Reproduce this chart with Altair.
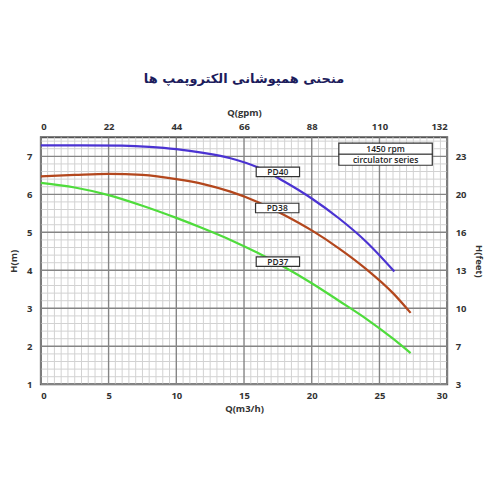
import json
import altair as alt
import pandas as pd

title_text = "منحنی همپوشانی الکتروپمپ ها"

# Pump curves: Q (m3/h) and H (m)
q_pd40 = [0, 3, 6, 8, 10, 12, 14, 16, 18, 20, 22, 24, 26.1]
h_pd40 = [7.29, 7.29, 7.28, 7.25, 7.19, 7.09, 6.95, 6.71, 6.33, 5.89, 5.37, 4.76, 3.97]

q_pd38 = [0, 2.5, 5, 7.5, 10, 12, 14, 16, 18, 20, 22, 24, 26, 27.3]
h_pd38 = [6.47, 6.51, 6.54, 6.51, 6.40, 6.27, 6.07, 5.80, 5.45, 5.05, 4.58, 4.04, 3.40, 2.88]

q_pd37 = [0, 2.5, 5, 7.5, 10, 12, 14, 16, 18, 20, 22, 24, 26, 27.3]
h_pd37 = [6.30, 6.18, 5.98, 5.70, 5.38, 5.10, 4.80, 4.46, 4.08, 3.66, 3.20, 2.73, 2.20, 1.82]

pump_names = ["PD40", "PD38", "PD37"]
pump_colors = ["#4b33d2", "#b3471d", "#4fdc3c"]

# Axis ticks and their labels
q_ticks = [0, 5, 10, 15, 20, 25, 30]
gpm_labels = ["0", "22", "44", "66", "88", "110", "132"]
h_ticks = [1, 2, 3, 4, 5, 6, 7]
feet_labels = ["3", "7", "10", "13", "16", "20", "23"]

# Curve label positions (data coordinates)
label_q = [17.5, 17.45, 17.5]
label_h = [6.59, 5.64, 4.23]

info_lines = ["1450 rpm", "circulator series"]
info_h = [7.20, 6.91]
info_q = [22.0, 28.9]

# ---------- build tables ----------
rows = []
for name, qs, hs in zip(pump_names, [q_pd40, q_pd38, q_pd37], [h_pd40, h_pd38, h_pd37]):
    for i, (q, h) in enumerate(zip(qs, hs)):
        rows.append({"pump": name, "q": q, "h": h, "i": i})
curves = pd.DataFrame(rows)

x_minor = pd.DataFrame({"q": [i * 0.5 for i in range(61) if i % 10]})
y_minor = pd.DataFrame({"h": [round(1 + i * 0.2, 1) for i in range(33) if i % 5]})
x_major = pd.DataFrame({"q": q_ticks})
y_major = pd.DataFrame({"h": h_ticks})

lab = pd.DataFrame({"pump": pump_names, "cx": label_q, "cy": label_h})
lab["x1"] = lab["cx"] - 1.6
lab["x2"] = lab["cx"] + 1.6
lab["y1"] = lab["cy"] - 0.125
lab["y2"] = lab["cy"] + 0.125

info = pd.DataFrame({"t": info_lines, "cy": info_h})
info["x1"] = info_q[0]
info["x2"] = info_q[1]
info["cx"] = (info_q[0] + info_q[1]) / 2
info["y1"] = info["cy"] - 0.145
info["y2"] = info["cy"] + 0.145

xs = alt.Scale(domain=[0, 30], nice=False, zero=False)
ys = alt.Scale(domain=[1, 7.5], nice=False, zero=False)

FONT = "Open Sans"
common = dict(
    labelFont=FONT, labelFontSize=9.5, labelFontWeight="bold", labelColor="#333333",
    ticks=False, domain=False, grid=False,
    titleFont=FONT, titleFontSize=9.5, titleFontWeight="bold", titleColor="#333333",
)

bottom_axis = alt.Axis(orient="bottom", values=q_ticks, title="Q(m3/h)", labelPadding=6,
                       titlePadding=4, format="d", **common)
top_axis = alt.Axis(orient="top", values=q_ticks, title="Q(gpm)", labelPadding=6, titlePadding=4,
                    labelExpr=f"{json.dumps(gpm_labels)}[indexof({json.dumps(q_ticks)}, datum.value)]",
                    **common)
left_axis = alt.Axis(orient="left", values=h_ticks, title="H(m)", labelPadding=9, titlePadding=8,
                     format="d", **common)
right_axis = alt.Axis(orient="right", values=h_ticks, title="H(feet)", labelPadding=8, titlePadding=8,
                      labelExpr=f"{json.dumps(feet_labels)}[indexof({json.dumps(h_ticks)}, datum.value)]",
                      **common)

vminor = alt.Chart(x_minor).mark_rule(color="#d2d2d2", strokeWidth=1).encode(
    x=alt.X("q:Q", scale=xs, axis=None))
hminor = alt.Chart(y_minor).mark_rule(color="#d2d2d2", strokeWidth=1).encode(
    y=alt.Y("h:Q", scale=ys, axis=None))
vmajor = alt.Chart(x_major).mark_rule(color="#858585", strokeWidth=1.4).encode(
    x=alt.X("q:Q", scale=xs, axis=top_axis))
hmajor = alt.Chart(y_major).mark_rule(color="#858585", strokeWidth=1.4).encode(
    y=alt.Y("h:Q", scale=ys, axis=right_axis))

lines = alt.Chart(curves).mark_line(strokeWidth=2.2, interpolate="monotone").encode(
    x=alt.X("q:Q", scale=xs, axis=bottom_axis),
    y=alt.Y("h:Q", scale=ys, axis=left_axis),
    color=alt.Color("pump:N", scale=alt.Scale(domain=pump_names, range=pump_colors), legend=None),
    order="i:Q",
)

lab_box = alt.Chart(lab).mark_rect(fill="white", stroke="#333333", strokeWidth=1.2).encode(
    x=alt.X("x1:Q", scale=xs, axis=None), x2="x2:Q",
    y=alt.Y("y1:Q", scale=ys, axis=None), y2="y2:Q")
lab_txt = alt.Chart(lab).mark_text(font=FONT, fontSize=8.5, fontWeight=600, color="#222222").encode(
    x=alt.X("cx:Q", scale=xs, axis=None), y=alt.Y("cy:Q", scale=ys, axis=None), text="pump:N")

info_box = alt.Chart(info).mark_rect(fill="white", stroke="#333333", strokeWidth=1.2).encode(
    x=alt.X("x1:Q", scale=xs, axis=None), x2="x2:Q",
    y=alt.Y("y1:Q", scale=ys, axis=None), y2="y2:Q")
info_txt = alt.Chart(info).mark_text(font=FONT, fontSize=8.5, fontWeight=600, color="#222222").encode(
    x=alt.X("cx:Q", scale=xs, axis=None), y=alt.Y("cy:Q", scale=ys, axis=None), text="t:N")

chart = alt.layer(
    vminor, hminor, vmajor, hmajor, lines, lab_box, lab_txt, info_box, info_txt
).resolve_axis(x="independent", y="independent").properties(
    width=408, height=248,
    padding={"left": 33, "top": 129, "right": 45, "bottom": 40},
    autosize=alt.AutoSizeParams(type="none"),
    background="white",
    title=alt.TitleParams(text=title_text, font="DejaVu Sans", fontSize=13, fontWeight="bold",
                          color="#1c1c5c", anchor="middle", offset=22),
).configure_view(stroke="#555555", strokeWidth=2)

chart.save("out.html", embed_options={"renderer": "svg", "actions": False})
